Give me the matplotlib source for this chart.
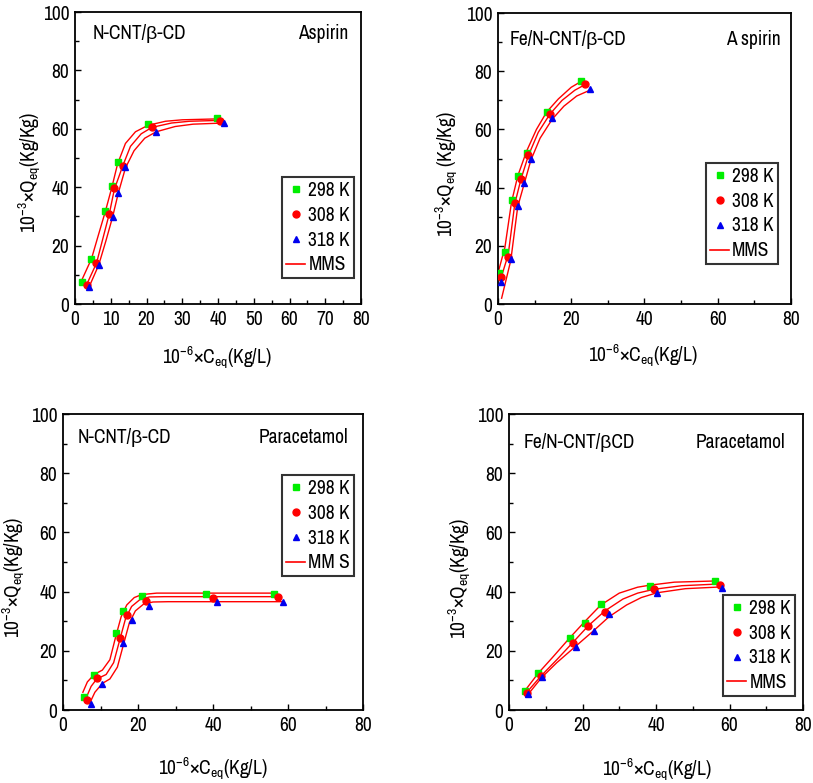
import matplotlib
matplotlib.use('Agg')
import matplotlib.pyplot as plt
from matplotlib.ticker import MultipleLocator
from matplotlib.lines import Line2D

# narrow font, falls back to Liberation Sans if missing
font = 'Archivo Narrow'
plt.rcParams['font.family'] = [font, 'Liberation Sans', 'DejaVu Sans']
plt.rcParams['mathtext.fontset'] = 'custom'
plt.rcParams['mathtext.rm'] = font
plt.rcParams['mathtext.it'] = font
plt.rcParams['mathtext.default'] = 'regular'

temps = ['298 K', '308 K', '318 K']

# ---- N-CNT/β-CD, Aspirin ----
a1_x = [[2.0, 4.6, 8.5, 10.4, 11.9, 20.4, 39.6],
        [3.3, 6.0, 9.6, 10.8, 13.4, 21.5, 40.5],
        [3.8, 6.6, 10.5, 12.0, 14.1, 22.7, 41.6]]
a1_y = [[7.6, 15.4, 31.8, 40.5, 48.7, 61.5, 63.6],
        [6.5, 13.9, 31.0, 39.6, 47.4, 60.7, 62.7],
        [5.7, 13.4, 29.9, 38.2, 46.8, 59.0, 61.9]]
a1_fx = [[2.0, 4.6, 6.5, 8.5, 10.3, 11.9, 14.1, 16.9, 20.4, 25.3, 30.0, 39.5],
         [3.3, 6.0, 7.8, 9.6, 11.0, 13.4, 15.5, 18.5, 21.5, 27.0, 32.0, 40.5],
         [3.8, 6.6, 8.6, 10.5, 12.1, 14.1, 16.5, 19.5, 22.7, 28.0, 33.0, 41.6]]
a1_fy = [[8.5, 15.5, 23.5, 31.8, 40.0, 48.0, 55.0, 59.0, 61.2, 62.6, 63.1, 63.4],
         [6.8, 14.0, 22.5, 31.0, 39.3, 47.5, 54.0, 58.3, 60.5, 62.0, 62.6, 62.9],
         [5.5, 13.3, 21.5, 29.8, 38.0, 46.6, 52.5, 56.8, 59.0, 60.8, 61.6, 62.0]]

# ---- Fe/N-CNT/β-CD, Aspirin ----
a2_x = [[0.3, 1.9, 3.7, 5.4, 7.8, 13.3, 22.7],
        [0.8, 2.8, 4.6, 6.3, 8.3, 14.2, 23.9],
        [0.8, 3.5, 5.4, 7.2, 9.0, 14.8, 25.1]]
a2_y = [[10.5, 18.0, 35.7, 44.0, 52.0, 66.1, 76.7],
        [9.4, 16.3, 34.8, 42.9, 51.2, 65.3, 75.6],
        [7.7, 15.5, 33.8, 41.5, 49.8, 64.0, 73.8]]
a2_fx = [[0.3, 1.9, 3.7, 5.4, 7.8, 10.5, 13.3, 16.5, 20.0, 22.7],
         [0.6, 2.8, 4.6, 6.3, 8.3, 11.0, 14.2, 17.5, 21.0, 23.9],
         [1.0, 3.5, 5.4, 7.2, 9.0, 11.5, 14.8, 18.0, 21.5, 25.1]]
a2_fy = [[12.0, 19.5, 35.0, 44.0, 52.5, 60.0, 66.0, 70.5, 74.5, 76.5],
         [8.0, 17.0, 34.5, 43.0, 51.0, 59.0, 65.3, 70.0, 73.5, 75.5],
         [2.0, 15.0, 33.5, 41.5, 49.5, 57.0, 63.5, 68.0, 71.5, 73.5]]

# ---- N-CNT/β-CD, Paracetamol ----
p1_x = [[5.6, 8.3, 14.1, 16.1, 21.0, 38.1, 56.3],
        [6.5, 9.0, 15.2, 17.0, 22.1, 39.9, 57.4],
        [7.4, 10.5, 16.1, 18.3, 23.0, 41.0, 58.6]]
p1_y = [[4.5, 11.8, 25.9, 33.4, 38.5, 39.2, 39.2],
        [3.4, 10.7, 24.2, 32.1, 37.0, 37.7, 38.3],
        [2.0, 8.8, 22.5, 30.4, 35.1, 36.6, 36.6]]
p1_fx = [[5.3, 6.5, 8.3, 10.5, 12.5, 14.1, 15.5, 17.0, 19.0, 21.0, 25.0, 56.5],
         [6.3, 7.5, 9.0, 11.5, 13.5, 15.2, 16.7, 18.3, 20.5, 23.0, 27.0, 57.5],
         [7.2, 8.5, 10.5, 12.5, 14.5, 16.1, 17.7, 19.3, 21.5, 24.0, 28.0, 58.5]]
p1_fy = [[6.0, 9.5, 12.0, 13.5, 17.0, 25.0, 31.5, 35.5, 38.0, 39.0, 39.5, 39.5],
         [4.5, 8.0, 10.5, 12.0, 16.0, 24.0, 31.0, 35.0, 37.3, 38.2, 38.3, 38.3],
         [2.5, 6.0, 9.0, 10.5, 14.5, 22.0, 29.5, 33.5, 35.8, 36.5, 36.6, 36.6]]

# ---- Fe/N-CNT/β-CD, Paracetamol ----
p2_x = [[4.35, 8.0, 16.6, 20.7, 25.0, 38.4, 56.1],
        [4.8, 8.7, 17.5, 21.6, 26.1, 39.5, 57.4],
        [5.1, 8.9, 18.1, 23.2, 27.2, 40.2, 57.9]]
p2_y = [[6.5, 12.4, 24.2, 29.3, 35.7, 42.0, 43.6],
        [5.8, 11.5, 22.7, 28.4, 33.2, 40.8, 42.2],
        [5.4, 11.0, 21.4, 26.8, 32.4, 39.6, 41.1]]
p2_fx = [[4.0, 8.0, 12.0, 16.6, 20.7, 25.0, 30.0, 35.0, 38.4, 45.0, 56.0],
         [4.5, 8.7, 13.0, 17.5, 21.6, 26.1, 31.0, 35.0, 39.5, 47.0, 57.4],
         [5.0, 8.9, 13.0, 18.1, 23.2, 27.2, 32.0, 36.0, 40.2, 48.0, 57.9]]
p2_fy = [[6.0, 12.5, 18.0, 24.5, 30.0, 35.5, 39.5, 41.5, 42.2, 43.2, 43.6],
         [5.5, 11.5, 17.0, 23.0, 28.5, 33.5, 37.5, 39.5, 40.8, 42.0, 42.6],
         [5.0, 11.0, 16.0, 21.5, 27.0, 31.5, 35.5, 38.0, 39.6, 41.0, 41.6]]

colors = ['#00ee00', '#ff0000', '#0000ee']
markers = ['s', 'o', '^']


def draw_panel(rect, xs, ys, fxs, fys, xmajor, xminor, sample, drug,
               leg_anchor, mms_label, xlab_pos, ylab_pos, ylab):
    ax = fig.add_axes(rect)
    for fx, fy in zip(fxs, fys):
        ax.plot(fx, fy, color='red', lw=1.0, zorder=2)
    for x, y, c, m in zip(xs, ys, colors, markers):
        ax.plot(x, y, ls='none', marker=m, ms=5, color=c, mec=c, zorder=3)
    ax.set_xlim(0, 80)
    ax.set_ylim(0, 100)
    ax.xaxis.set_major_locator(MultipleLocator(xmajor))
    ax.xaxis.set_minor_locator(MultipleLocator(xminor))
    ax.yaxis.set_major_locator(MultipleLocator(20))
    ax.yaxis.set_minor_locator(MultipleLocator(10))
    ax.tick_params(which='both', direction='in', top=False, right=False,
                   labelsize=14, width=1.0, pad=4)
    ax.tick_params(which='major', length=4)
    ax.tick_params(which='minor', length=3)
    for s in ax.spines.values():
        s.set_linewidth(1.3)
    ax.text(sample[0], sample[1], sample[2], transform=ax.transAxes,
            fontsize=14, ha='left', va='center')
    ax.text(drug[0], drug[1], drug[2], transform=ax.transAxes,
            fontsize=14, ha='right', va='center')
    handles = [Line2D([], [], ls='none', marker=m, ms=5, color=c)
               for c, m in zip(colors, markers)]
    handles.append(Line2D([], [], color='red', lw=1.2))
    leg = ax.legend(handles, temps + [mms_label], loc='upper left',
                    bbox_to_anchor=leg_anchor, fontsize=14, frameon=True,
                    fancybox=False, edgecolor='black', handlelength=1.0,
                    handletextpad=0.15, labelspacing=0.3, borderpad=0.2,
                    borderaxespad=0)
    leg.get_frame().set_linewidth(1.5)
    ax.set_xlabel(r'10$^{-6}$×C$_{eq}$(Kg/L)', fontsize=14)
    ax.set_ylabel(ylab, fontsize=14)
    ax.xaxis.set_label_coords(*xlab_pos)
    ax.yaxis.set_label_coords(*ylab_pos)
    return ax


fig = plt.figure(figsize=(8.13, 7.83), dpi=100)

draw_panel([0.0923, 0.6117, 0.3518, 0.3729], a1_x, a1_y, a1_fx, a1_fy, 10, 5,
           (0.06, 0.925, 'N-CNT/β-CD'), (0.955, 0.925, 'Aspirin'),
           (0.724, 0.435), 'MMS', (0.497, -0.14), (-0.112, 0.45),
           r'10$^{-3}$×Q$_{eq}$(Kg/Kg)')
draw_panel([0.6125, 0.6117, 0.3604, 0.3716], a2_x, a2_y, a2_fx, a2_fy, 20, 10,
           (0.04, 0.91, 'Fe/N-CNT/β-CD'), (0.966, 0.91, 'A spirin'),
           (0.71, 0.485), 'MMS', (0.495, -0.134), (-0.13, 0.447),
           r'10$^{-3}$×Q$_{eq}$ (Kg/Kg)')
draw_panel([0.0775, 0.0932, 0.3690, 0.3780], p1_x, p1_y, p1_fx, p1_fy, 20, 10,
           (0.05, 0.92, 'N-CNT/β-CD'), (0.95, 0.92, 'Paracetamol'),
           (0.73, 0.794), 'MM S', (0.5, -0.155), (-0.12, 0.45),
           r'10$^{-3}$×Q$_{eq}$(Kg/Kg)')
draw_panel([0.6261, 0.0932, 0.3616, 0.3780], p2_x, p2_y, p2_fx, p2_fy, 20, 10,
           (0.048, 0.905, 'Fe/N-CNT/βCD'), (0.94, 0.905, 'Paracetamol'),
           (0.728, 0.389), 'MMS', (0.503, -0.16), (-0.122, 0.446),
           r'10$^{-3}$×Q$_{eq}$(Kg/Kg)')

fig.savefig('out.png', dpi=100)
